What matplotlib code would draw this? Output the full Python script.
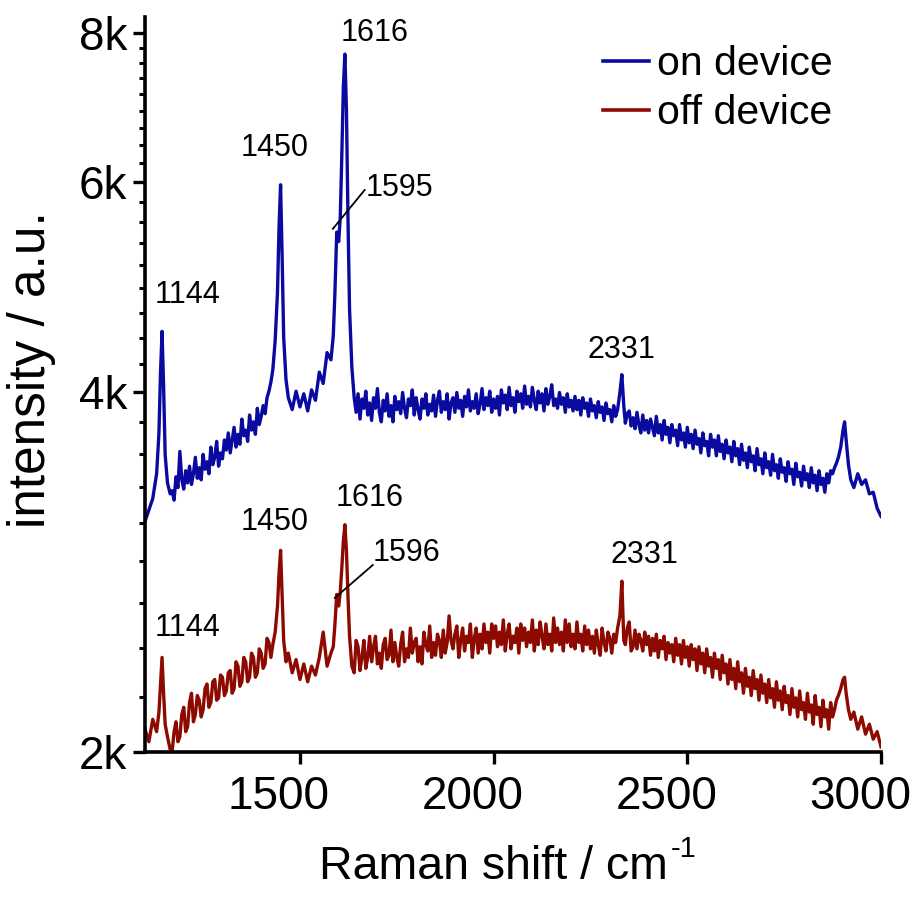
import numpy as np
import matplotlib
matplotlib.use('Agg')
import matplotlib.pyplot as plt
from matplotlib.ticker import FixedLocator, FuncFormatter, NullFormatter
from matplotlib.transforms import ScaledTranslation

plt.rcParams['font.family'] = ['Liberation Sans', 'DejaVu Sans']

raman_shift = [
    1100, 1110, 1120, 1130, 1136, 1140, 1144, 1148, 1152, 1158,
    1165, 1170, 1175, 1180, 1185, 1190, 1195, 1200, 1205, 1210,
    1215, 1220, 1225, 1230, 1235, 1240, 1245, 1250, 1255, 1260,
    1265, 1270, 1275, 1280, 1285, 1290, 1295, 1300, 1305, 1310,
    1315, 1320, 1325, 1330, 1335, 1340, 1345, 1350, 1355, 1360,
    1365, 1370, 1375, 1380, 1385, 1390, 1395, 1400, 1405, 1410,
    1415, 1420, 1425, 1430, 1436, 1442, 1446, 1450, 1454, 1458,
    1464, 1470, 1480, 1490, 1500, 1510, 1520, 1530, 1540, 1550,
    1560, 1570, 1580, 1586, 1590, 1595, 1600, 1604, 1608, 1612,
    1616, 1620, 1624, 1628, 1634, 1640, 1645, 1650, 1655, 1660,
    1665, 1670, 1675, 1680, 1685, 1690, 1695, 1700, 1705, 1710,
    1715, 1720, 1725, 1730, 1735, 1740, 1745, 1750, 1755, 1760,
    1765, 1770, 1775, 1780, 1785, 1790, 1795, 1800, 1805, 1810,
    1815, 1820, 1825, 1830, 1835, 1840, 1845, 1850, 1855, 1860,
    1865, 1870, 1875, 1880, 1885, 1890, 1895, 1900, 1905, 1910,
    1915, 1920, 1925, 1930, 1935, 1940, 1945, 1950, 1955, 1960,
    1965, 1970, 1975, 1980, 1985, 1990, 1995, 2000, 2005, 2010,
    2015, 2020, 2025, 2030, 2035, 2040, 2045, 2050, 2055, 2060,
    2065, 2070, 2075, 2080, 2085, 2090, 2095, 2100, 2105, 2110,
    2115, 2120, 2125, 2130, 2135, 2140, 2145, 2150, 2155, 2160,
    2165, 2170, 2175, 2180, 2185, 2190, 2195, 2200, 2205, 2210,
    2215, 2220, 2225, 2230, 2235, 2240, 2245, 2250, 2255, 2260,
    2265, 2270, 2275, 2280, 2285, 2290, 2295, 2300, 2305, 2310,
    2315, 2320, 2326, 2331, 2336, 2340, 2345, 2350, 2355, 2360,
    2365, 2370, 2375, 2380, 2385, 2390, 2395, 2400, 2405, 2410,
    2415, 2420, 2425, 2430, 2435, 2440, 2445, 2450, 2455, 2460,
    2465, 2470, 2475, 2480, 2485, 2490, 2495, 2500, 2505, 2510,
    2515, 2520, 2525, 2530, 2535, 2540, 2545, 2550, 2555, 2560,
    2565, 2570, 2575, 2580, 2585, 2590, 2595, 2600, 2605, 2610,
    2615, 2620, 2625, 2630, 2635, 2640, 2645, 2650, 2655, 2660,
    2665, 2670, 2675, 2680, 2685, 2690, 2695, 2700, 2705, 2710,
    2715, 2720, 2725, 2730, 2735, 2740, 2745, 2750, 2755, 2760,
    2765, 2770, 2775, 2780, 2785, 2790, 2795, 2800, 2805, 2810,
    2815, 2820, 2825, 2830, 2835, 2840, 2845, 2850, 2855, 2860,
    2865, 2870, 2875, 2880, 2885, 2890, 2896, 2902, 2906, 2910,
    2916, 2922, 2930, 2940, 2950, 2960, 2970, 2980, 2990, 3000,
]

on_device = [
    3120, 3190, 3260, 3420, 3700, 4150, 4500, 4050, 3550, 3360,
    3290, 3310, 3250, 3400, 3330, 3570, 3380, 3320, 3440, 3360,
    3470, 3350, 3420, 3530, 3390, 3460, 3380, 3550, 3450, 3500,
    3420, 3600, 3480, 3530, 3640, 3470, 3560, 3520, 3650, 3580,
    3700, 3560, 3650, 3740, 3600, 3690, 3620, 3800, 3680, 3720,
    3640, 3830, 3720, 3780, 3690, 3880, 3760, 3820, 3900, 3840,
    3960, 4010, 4080, 4180, 4420, 4850, 5500, 5970, 5200, 4450,
    4100, 3960, 3870, 4010, 3890, 3990, 3860, 4020, 3940, 4160,
    4070, 4320, 4260, 4460, 4820, 5450, 5350, 5600, 6300, 7200,
    7680, 6900, 5600, 4700, 4200, 3960, 3850, 3990, 3800, 3950,
    3880, 4010, 3830, 3920, 3790, 3960, 3880, 4030, 3850, 3780,
    3940, 3860, 3990, 3820, 3900, 3780, 3970, 3870, 3930, 3840,
    4000, 3880, 3810, 3950, 3900, 4020, 3830, 3960, 3870, 3800,
    3950, 3880, 3990, 3830, 3910, 3860, 3980, 3820, 3940, 4010,
    3850, 3930, 3870, 3990, 3800, 3920, 3960, 3850, 4000, 3880,
    3940, 3820, 3970, 3890, 4020, 3860, 3930, 3880, 3990, 3840,
    3910, 4030, 3870, 3960, 3900, 4010, 3850, 3950, 3880, 3970,
    3830, 4020, 3920, 3980, 3870, 4040, 3900, 3960, 3850, 4010,
    3930, 3990, 3880, 4050, 3910, 3970, 3890, 4040, 3940, 3870,
    4010, 3920, 3990, 3860, 4030, 3910, 3970, 4060, 3900, 3950,
    3880, 4000, 3910, 3960, 3850, 3990, 3890, 3940, 3860, 3970,
    3870, 3940, 3830, 3960, 3880, 3920, 3820, 3950, 3860, 3900,
    3810, 3930, 3850, 3890, 3790, 3920, 3840, 3870, 3780, 3900,
    3820, 3870, 4000, 4140, 3900, 3770, 3840, 3860, 3750, 3810,
    3730, 3850, 3760, 3700, 3830, 3720, 3790, 3700, 3800, 3740,
    3680, 3820, 3700, 3760, 3650, 3790, 3690, 3740, 3630, 3760,
    3680, 3720, 3610, 3760, 3650, 3700, 3600, 3740, 3630, 3690,
    3590, 3720, 3620, 3660, 3560, 3700, 3610, 3640, 3540, 3690,
    3600, 3650, 3540, 3680, 3570, 3620, 3520, 3650, 3560, 3600,
    3500, 3640, 3540, 3590, 3480, 3620, 3510, 3560, 3460, 3600,
    3500, 3540, 3440, 3590, 3480, 3520, 3420, 3560, 3460, 3500,
    3410, 3550, 3440, 3480, 3390, 3520, 3430, 3460, 3370, 3500,
    3420, 3450, 3350, 3490, 3400, 3430, 3340, 3470, 3380, 3420,
    3330, 3460, 3360, 3410, 3310, 3440, 3350, 3390, 3300, 3420,
    3360, 3440, 3420, 3460, 3490, 3530, 3600, 3720, 3780, 3650,
    3480, 3380, 3330, 3420, 3350, 3380, 3290, 3300, 3200, 3150,
]

off_device = [
    2090, 2040, 2130, 2080, 2160, 2280, 2400, 2240, 2110, 2060,
    2010, 2000, 2080, 2120, 2040, 2060, 2150, 2180, 2080, 2100,
    2200, 2240, 2120, 2150, 2230, 2210, 2140, 2170, 2260, 2280,
    2180, 2200, 2290, 2300, 2210, 2220, 2320, 2310, 2230, 2250,
    2330, 2340, 2240, 2260, 2380, 2360, 2270, 2290, 2400, 2380,
    2290, 2310, 2420, 2400, 2310, 2330, 2440, 2420, 2350, 2370,
    2490, 2470, 2400, 2460, 2520, 2650, 2820, 2950, 2700, 2480,
    2380, 2420, 2330, 2390, 2300, 2370, 2290, 2360, 2320, 2400,
    2520, 2360, 2420, 2450, 2550, 2710, 2650, 2720, 2850, 3000,
    3100, 2950, 2700, 2500, 2360, 2330, 2480, 2450, 2340, 2400,
    2480, 2350, 2400, 2500, 2380, 2450, 2500, 2370, 2420, 2350,
    2460, 2490, 2390, 2410, 2530, 2380, 2470, 2400, 2360, 2460,
    2520, 2380, 2440, 2400, 2540, 2420, 2470, 2490, 2380, 2450,
    2370, 2520, 2460, 2430, 2550, 2400, 2470, 2410, 2510, 2480,
    2400, 2530, 2420, 2470, 2600, 2480, 2440, 2510, 2550, 2400,
    2480, 2540, 2430, 2500, 2470, 2560, 2400, 2490, 2540, 2420,
    2510, 2440, 2560, 2470, 2520, 2420, 2560, 2490, 2550, 2450,
    2520, 2460, 2580, 2430, 2510, 2560, 2440, 2500, 2470, 2540,
    2420, 2560, 2480, 2540, 2450, 2520, 2470, 2580, 2430, 2530,
    2460, 2570, 2500, 2440, 2560, 2460, 2510, 2430, 2590, 2470,
    2540, 2460, 2520, 2430, 2580, 2470, 2560, 2450, 2510, 2440,
    2570, 2470, 2510, 2430, 2550, 2460, 2530, 2440, 2500, 2420,
    2530, 2460, 2410, 2540, 2470, 2430, 2520, 2490, 2420, 2510,
    2470, 2540, 2600, 2780, 2480, 2460, 2540, 2570, 2430, 2450,
    2530, 2440, 2510, 2480, 2430, 2520, 2460, 2500, 2410, 2490,
    2430, 2510, 2400, 2480, 2440, 2500, 2390, 2470, 2420, 2460,
    2380, 2490, 2410, 2460, 2370, 2480, 2400, 2450, 2360, 2460,
    2390, 2440, 2340, 2450, 2370, 2420, 2330, 2440, 2360, 2400,
    2310, 2420, 2350, 2390, 2300, 2410, 2330, 2370, 2280, 2390,
    2300, 2350, 2260, 2380, 2290, 2330, 2240, 2350, 2270, 2310,
    2230, 2340, 2260, 2300, 2210, 2320, 2240, 2280, 2200, 2300,
    2220, 2260, 2180, 2290, 2210, 2250, 2170, 2270, 2200, 2230,
    2150, 2260, 2180, 2220, 2140, 2250, 2170, 2200, 2130, 2240,
    2160, 2190, 2110, 2230, 2150, 2180, 2100, 2210, 2140, 2170,
    2090, 2200, 2140, 2170, 2210, 2230, 2260, 2300, 2310, 2240,
    2170, 2130, 2160, 2090, 2140, 2070, 2110, 2050, 2080, 2020,
]

series_labels = ["on device", "off device"]
series_colors = ["#0a0aa0", "#8c0a00"]

y_major = [2000, 4000, 6000, 8000]
y_tick_labels = ["2k", "4k", "6k", "8k"]
x_major = [1500, 2000, 2500, 3000]

on_peak_labels = ["1144", "1450", "1616", "1595", "2331"]
off_peak_labels = ["1144", "1450", "1616", "1596", "2331"]

fig = plt.figure(figsize=(9.13, 9.0), dpi=100)
ax = fig.add_axes([145/913, 1-752/900, (881-145)/913, (752-17)/900])

x = np.array(raman_shift)
ax.plot(x, np.array(on_device), color=series_colors[0], lw=2.4,
        label=series_labels[0], solid_joinstyle='round')
ax.plot(x, np.array(off_device), color=series_colors[1], lw=2.4,
        label=series_labels[1], solid_joinstyle='round')

ax.set_yscale('log')
ax.set_xlim(1100, 3000)
ax.set_ylim(2000, 8250)

ax.yaxis.set_major_locator(FixedLocator(y_major))
ax.yaxis.set_major_formatter(FuncFormatter(
    lambda v, p: y_tick_labels[y_major.index(int(round(v)))] if int(round(v)) in y_major else ""))
minors = []
for a, b in zip(y_major[:-1], y_major[1:]):
    for k in range(1, 9):
        minors.append(a + (b - a) * k / 9)
ax.yaxis.set_minor_locator(FixedLocator(minors))
ax.yaxis.set_minor_formatter(NullFormatter())

ax.xaxis.set_major_locator(FixedLocator(x_major))
ax.xaxis.set_minor_locator(FixedLocator([]))

for s in ['top', 'right']:
    ax.spines[s].set_visible(False)
for s in ['left', 'bottom']:
    ax.spines[s].set_linewidth(2.6)

ax.tick_params(axis='both', which='major', direction='out', length=8.6, width=2.4,
               labelsize=33, pad=4)
ax.tick_params(axis='y', which='minor', direction='out', length=4.3, width=2.2)
ax.tick_params(axis='x', which='major', pad=8)

xl = ax.set_xlabel("Raman shift / cm", fontsize=33.5)
ax.xaxis.set_label_coords(0.474, -0.126)
xl.set_va('top')
ax.set_ylabel("intensity / a.u.", fontsize=37)
ax.yaxis.set_label_coords(-0.121, 0.52)

fs = 22
# on-device annotations
ax.text(1211, 4830, on_peak_labels[0], fontsize=fs, ha='center', va='center')
ax.text(1435, 6410, on_peak_labels[1], fontsize=fs, ha='center', va='center')
ax.text(1693, 8004, on_peak_labels[2], fontsize=fs, ha='center', va='center')
ax.text(1758, 5936, on_peak_labels[3], fontsize=fs, ha='center', va='center')
ax.plot([1585, 1667], [5484, 5910], color='black', lw=1.3)
ax.text(2330, 4342, on_peak_labels[4], fontsize=fs, ha='center', va='center')
# off-device annotations
ax.text(1211, 2540, off_peak_labels[0], fontsize=fs, ha='center', va='center')
ax.text(1435, 3116, off_peak_labels[1], fontsize=fs, ha='center', va='center')
ax.text(1680, 3264, off_peak_labels[2], fontsize=fs, ha='center', va='center')
ax.text(1776, 2936, off_peak_labels[3], fontsize=fs, ha='center', va='center')
ax.plot([1590, 1688], [2692, 2868], color='black', lw=1.3)
ax.text(2390, 2924, off_peak_labels[4], fontsize=fs, ha='center', va='center')

leg = ax.legend(loc='upper right', bbox_to_anchor=(833/913, 1-45/900),
                bbox_transform=fig.transFigure, frameon=False, fontsize=29.5,
                handlelength=1.12, handletextpad=0.2, labelspacing=0.27,
                borderpad=0, borderaxespad=0)
for line in leg.get_lines():
    line.set_linewidth(2.6)

fig.canvas.draw()
# x tick labels sit a little left of their ticks in the reference
shift = ScaledTranslation(-21/100, 0, fig.dpi_scale_trans)
for tick in ax.xaxis.get_major_ticks():
    tick.label1.set_transform(tick.label1.get_transform() + shift)

# superscript "-1" after the x label
bb = xl.get_window_extent(renderer=fig.canvas.get_renderer())
fig.text((bb.x1 + 2) / fig.bbox.width, (bb.y1 + 10) / fig.bbox.height, "-1",
         fontsize=21, ha='left', va='top')

fig.savefig('out.png', dpi=100)
